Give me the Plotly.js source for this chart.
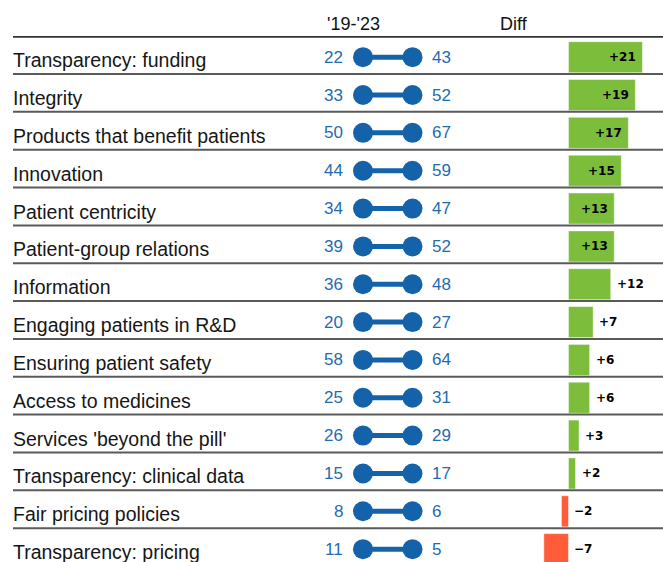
<!DOCTYPE html>
<html>
<head>
<meta charset="utf-8">
<script src="https://cdn.plot.ly/plotly-3.0.1.min.js"></script>
<style>html,body{margin:0;padding:0;background:#fff;}#chart{width:663px;height:562px;}</style>
</head>
<body>
<div id="chart"></div>
<script>
// ---- data ----
var categories = ['Transparency: funding','Integrity','Products that benefit patients','Innovation',
  'Patient centricity','Patient-group relations','Information','Engaging patients in R&D',
  'Ensuring patient safety','Access to medicines',"Services 'beyond the pill'",
  'Transparency: clinical data','Fair pricing policies','Transparency: pricing'];
var v2019 = [22,33,50,44,34,39,36,20,58,25,26,15,8,11];
var v2023 = [43,52,67,59,47,52,48,27,64,31,29,17,6,5];
var diff  = [21,19,17,15,13,13,12,7,6,6,3,2,-2,-7];
var headerPeriod = "'19-'23";
var headerDiff = 'Diff';

// ---- styles ----
var W = 663, H = 562;
var BLUE = '#1463aa', BLUE_TXT = '#1f6bb0';
var GREEN = '#7cbd3c', RED = '#ff5c39';
var FONT = 'Liberation Sans, Arial, Helvetica, sans-serif';
var insideMin = 13;
var sepOffset = -0.055;

// dumbbell line trace (one segment per row)
var lx = [], ly = [];
categories.forEach(function(c){ lx.push(0,1,null); ly.push(c,c,null); });
var lineTrace = {type:'scatter', mode:'lines', x:lx, y:ly, xaxis:'x', yaxis:'y',
  line:{color:BLUE, width:5}, hoverinfo:'skip', connectgaps:false};
var dotTrace = {type:'scatter', mode:'markers',
  x: categories.map(function(){return 0;}).concat(categories.map(function(){return 1;})),
  y: categories.concat(categories), xaxis:'x', yaxis:'y',
  marker:{color:BLUE, size:20, line:{width:0}}, hoverinfo:'skip'};
var barTrace = {type:'bar', orientation:'h', x:diff, y:categories, xaxis:'x2', yaxis:'y',
  width:0.82,
  marker:{color: diff.map(function(d){return d>=0?GREEN:RED;}), line:{color:'rgba(255,255,255,0.45)', width:1}},
  hoverinfo:'skip'};

var annotations = [];
categories.forEach(function(c,i){
  annotations.push({xref:'paper', yref:'y', x:11/W, y:c, xanchor:'left', yanchor:'middle', yshift:-3,
    text:c, showarrow:false, font:{family:FONT, size:19.5, color:'#161616'}});
  annotations.push({xref:'x', yref:'y', x:0, y:c, xanchor:'right', yanchor:'middle', xshift:-18,
    text:String(v2019[i]), showarrow:false, font:{family:FONT, size:17, color:BLUE_TXT}});
  annotations.push({xref:'x', yref:'y', x:1, y:c, xanchor:'left', yanchor:'middle', xshift:17,
    text:String(v2023[i]), showarrow:false, font:{family:FONT, size:17, color:BLUE_TXT}});
  var d = diff[i];
  var label = d>0 ? '+'+d : '\u2212'+Math.abs(d);
  var inside = d >= insideMin;
  annotations.push({xref:'x2', yref:'y', x: inside ? d : Math.max(d,0), y:c,
    xanchor: inside ? 'right' : 'left', yanchor:'middle', xshift: inside ? -4 : 4,
    text:'<b>'+label+'</b>', showarrow:false, font:{family:'DejaVu Sans, sans-serif', size:12, color:'#000'}});
});
annotations.push({xref:'paper', yref:'paper', x:325/W, y:1, yshift:12, xanchor:'left', yanchor:'middle',
  text:headerPeriod, showarrow:false, font:{family:FONT, size:18, color:'#111'}});
annotations.push({xref:'paper', yref:'paper', x:498/W, y:1, yshift:12, xanchor:'left', yanchor:'middle',
  text:headerDiff, showarrow:false, font:{family:FONT, size:18, color:'#111'}});

var shapes = [];
for (var k=0;k<categories.length;k++){
  shapes.push({type:'line', xref:'paper', yref:'y', x0:13/W, x1:1, y0:k-0.5+sepOffset, y1:k-0.5+sepOffset,
    line:{color: k===0 ? '#333' : '#5a5a5a', width: k===0 ? 3 : 2}, layer:'above'});
}

var layout = {
  width:W, height:H, margin:{l:0,r:0,t:36,b:0,pad:0},
  paper_bgcolor:'#fff', plot_bgcolor:'#fff', showlegend:false,
  xaxis:{domain:[313.5/W, 462/W], range:[-1,2], visible:false, fixedrange:true},
  xaxis2:{domain:[480/W, 1], range:[-25.14, 26.85], visible:false, fixedrange:true, anchor:'y'},
  yaxis:{type:'category', categoryorder:'array', categoryarray:categories, range:[13.34,-0.56],
    visible:false, fixedrange:true},
  annotations:annotations, shapes:shapes, bargap:0
};
Plotly.newPlot('chart', [lineTrace, dotTrace, barTrace], layout, {displayModeBar:false, staticPlot:true});
</script>
</body>
</html>
